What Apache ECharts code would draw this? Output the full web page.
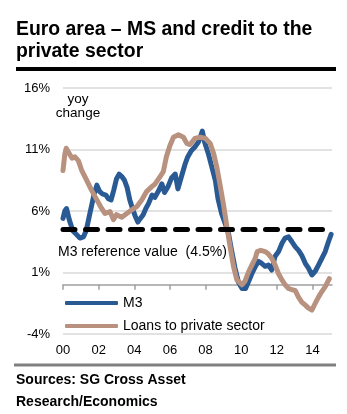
<!DOCTYPE html>
<html><head><meta charset="utf-8">
<script src="https://cdn.jsdelivr.net/npm/echarts@6/dist/echarts.min.js"></script>
<style>html,body{margin:0;padding:0;background:#fff}#c{width:347px;height:414px}</style>
</head><body><div id="c"></div>
<script>
// ---- Text ----
const titleText = 'Euro area \u2013 MS and credit to the\nprivate sector';
const sourceText = 'Sources: SG Cross Asset\nResearch/Economics';
const unitNote = 'yoy\nchange';
const refLabel = 'M3 reference value  (4.5%)';
const seriesNames = ['M3', 'Loans to private sector'];

// ---- Axes (x in years since 2000) ----
const xTickValues = [0, 2, 4, 6, 8, 10, 12, 14];
const xTickLabels = ['00', '02', '04', '06', '08', '10', '12', '14'];
const xMin = 0, xMax = 15.1;
const yMin = -4, yMax = 16, yStep = 5;

// ---- Data ----
const m3Years = [0.0,0.1,0.2,0.35,0.55,0.75,0.95,1.15,1.3,1.45,1.6,1.75,1.9,2.05,2.2,2.4,2.55,2.7,2.85,3.0,3.15,3.3,3.45,3.6,3.75,3.9,4.05,4.2,4.35,4.5,4.65,4.8,5.0,5.15,5.35,5.55,5.7,5.9,6.1,6.3,6.45,6.65,6.85,7.0,7.2,7.4,7.6,7.75,7.82,7.95,8.15,8.35,8.55,8.7,8.9,9.1,9.3,9.45,9.65,9.85,10.05,10.25,10.4,10.6,10.8,10.97,11.15,11.35,11.53,11.72,11.9,12.1,12.3,12.47,12.66,12.85,13.03,13.22,13.4,13.6,13.78,13.97,14.16,14.34,14.53,14.72,14.9,15.05];
const m3Values = [5.4,6.0,6.2,5.3,4.4,4.1,3.8,3.9,4.4,5.4,6.4,7.4,8.1,7.6,7.4,7.3,7.0,6.9,7.7,8.6,9.0,8.8,8.5,7.9,6.9,6.2,5.6,5.1,5.4,5.7,6.2,6.6,7.3,7.1,7.6,8.2,7.5,8.0,8.7,9.0,7.8,8.8,9.8,10.4,10.9,11.2,11.6,12.2,12.5,11.6,10.7,9.6,8.5,7.0,5.8,5.0,4.1,2.9,1.4,0.2,-0.3,-0.3,0.2,0.9,1.5,1.9,1.75,1.5,1.6,1.2,2.3,2.7,3.4,3.8,3.9,3.5,3.1,2.8,2.4,1.75,1.35,0.8,1.1,1.6,2.15,2.7,3.5,4.1];

const loanYears = [0.0,0.1,0.18,0.3,0.5,0.67,0.86,1.05,1.33,1.6,1.9,2.17,2.36,2.64,2.83,3.0,3.3,3.58,3.86,4.14,4.42,4.7,5.0,5.17,5.45,5.63,5.8,6.0,6.2,6.48,6.76,6.95,7.13,7.4,7.7,8.0,8.26,8.45,8.63,8.8,9.0,9.2,9.38,9.57,9.76,10.04,10.22,10.4,10.6,10.79,10.9,11.1,11.35,11.53,11.72,11.91,12.1,12.29,12.47,12.66,12.85,13.03,13.22,13.4,13.6,13.78,13.97,14.16,14.34,14.53,14.72,14.95];
const loanValues = [9.3,10.6,11.1,10.8,10.3,10.4,10.1,9.3,8.5,7.7,6.9,6.2,5.8,5.95,5.3,5.7,5.5,5.8,6.1,6.35,6.9,7.6,8.0,8.2,8.8,9.2,10.4,11.3,12.0,12.2,12.0,11.5,11.4,11.9,12.0,11.9,11.5,10.7,9.6,8.25,6.6,4.7,3.1,1.5,0.4,0.0,0.3,1.0,1.6,2.15,2.7,2.8,2.7,2.5,2.15,1.6,0.9,0.4,0.0,-0.3,-0.4,-0.45,-1.0,-1.4,-1.65,-1.9,-2.05,-1.5,-1.0,-0.55,-0.15,0.5];

const refValue = 4.5;
const refYears = [0, 14.8];

// ---- Build ----
const zip = (xs, ys) => xs.map((x, i) => [x, ys[i]]);
const FONT = '"Liberation Sans", Arial, Helvetica, sans-serif';
const BLUE = '#2a5a94';
const BROWN = '#b8917f';

const chart = echarts.init(document.getElementById('c'), null, {renderer: 'canvas'});
chart.setOption({
  backgroundColor: '#fff',
  animation: false,
  textStyle: {fontFamily: FONT, color: '#000'},
  title: {
    text: titleText, left: 16, top: 19, padding: 0,
    textStyle: {fontFamily: FONT, fontSize: 19.4, fontWeight: 'bold', color: '#000', lineHeight: 21.5}
  },
  grid: {left: 63, right: 15, top: 88, bottom: 80, containLabel: false},
  legend: {
    data: seriesNames, orient: 'vertical', left: 60, top: 288,
    icon: 'roundRect', itemWidth: 53, itemHeight: 4, itemGap: 3,
    textStyle: {fontFamily: FONT, fontSize: 14, color: '#000', lineHeight: 14, padding: [6, 0, 0, 0]},
    selectedMode: false
  },
  xAxis: [
    {
      type: 'value', min: xMin, max: xMax, interval: 2, position: 'bottom',
      axisLine: {show: false, onZero: false}, axisTick: {show: false}, splitLine: {show: false},
      axisLabel: {
        margin: 10, fontSize: 13, color: '#000', fontFamily: FONT,
        customValues: xTickValues,
        formatter: v => xTickLabels[xTickValues.indexOf(v)]
      }
    },
    {
      type: 'value', min: xMin, max: xMax, interval: 2, position: 'bottom',
      axisLine: {show: true, onZero: true, lineStyle: {color: '#a0a0a0', width: 1.5}},
      axisTick: {show: true, length: 5, inside: false, customValues: xTickValues, lineStyle: {color: '#a0a0a0', width: 1.5}},
      axisLabel: {show: false}, splitLine: {show: false}
    }
  ],
  yAxis: {
    type: 'value', min: yMin, max: yMax, interval: yStep,
    axisLine: {show: false}, axisTick: {show: false},
    axisLabel: {margin: 13, fontSize: 13, color: '#000', fontFamily: FONT, formatter: v => v + '%'},
    splitLine: {show: true, lineStyle: {color: '#d9d9d9', width: 1.5}}
  },
  series: [
    {
      name: seriesNames[0], type: 'line', xAxisIndex: 0, data: zip(m3Years, m3Values),
      showSymbol: false, symbol: 'none', smooth: false, z: 2, color: BLUE,
      lineStyle: {color: BLUE, width: 5, cap: 'round', join: 'round'}
    },
    {
      name: seriesNames[1], type: 'line', xAxisIndex: 0, data: zip(loanYears, loanValues),
      showSymbol: false, symbol: 'none', smooth: false, z: 3, color: BROWN,
      lineStyle: {color: BROWN, width: 5, cap: 'round', join: 'round'}
    },
    {
      name: 'ref', type: 'line', xAxisIndex: 0, data: refYears.map(x => [x, refValue]),
      showSymbol: false, symbol: 'none', silent: true, z: 4, color: '#000',
      lineStyle: {color: '#000', width: 5, type: [12, 10.5], cap: 'round'}
    }
  ],
  graphic: [
    {type: 'rect', left: 16, top: 67, shape: {width: 320, height: 4}, style: {fill: '#000'}, silent: true},
    {type: 'rect', left: 14, top: 363.5, shape: {width: 322, height: 3}, style: {fill: '#808080'}, silent: true},
    {type: 'text', x: 78, y: 93, style: {text: unitNote, font: '13.5px ' + FONT, fill: '#000', align: 'center', verticalAlign: 'top', lineHeight: 13.5}, silent: true},
    {type: 'text', x: 58, y: 252, style: {text: refLabel, font: '14px ' + FONT, fill: '#000', align: 'left', verticalAlign: 'middle'}, silent: true},
    {type: 'text', x: 16, y: 369, style: {text: sourceText, font: 'bold 14px ' + FONT, fill: '#000', align: 'left', verticalAlign: 'top', lineHeight: 22}, silent: true}
  ]
});
</script></body></html>
